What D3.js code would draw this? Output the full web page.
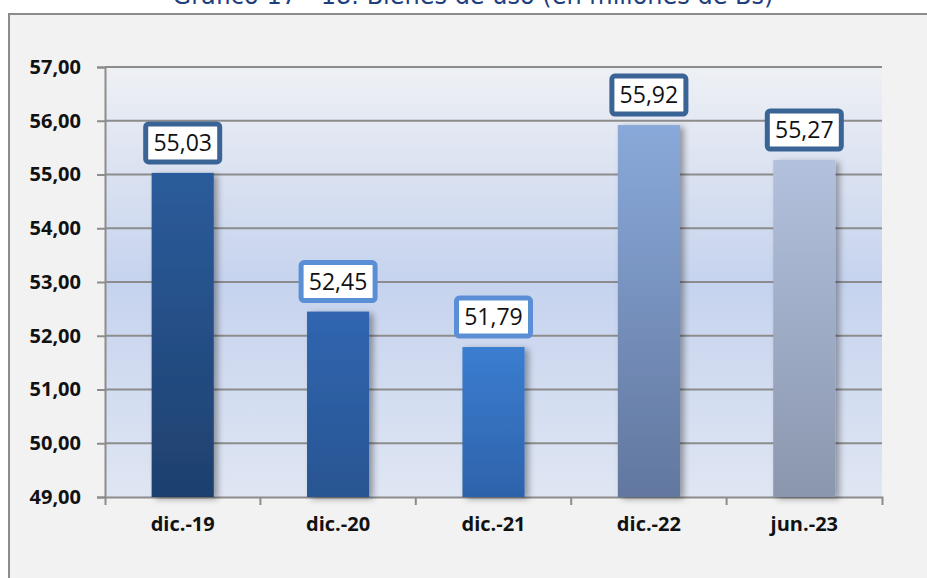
<!DOCTYPE html>
<html>
<head>
<meta charset="utf-8">
<script src="https://cdn.jsdelivr.net/npm/d3@7"></script>
<style>
  body { margin: 0; background: #ffffff; }
  svg { display: block; }
</style>
</head>
<body>
<div id="chart"></div>
<script>
var categories = ["dic.-19", "dic.-20", "dic.-21", "dic.-22", "jun.-23"];
var values = [55.03, 52.45, 51.79, 55.92, 55.27];
var labels = ["55,03", "52,45", "51,79", "55,92", "55,27"];
var yTicks = [49, 50, 51, 52, 53, 54, 55, 56, 57];
var title = "Gráfico 17 - 18. Bienes de uso (en millones de Bs)";

// colours per bar: [top, bottom, label border]
var barColors = [
  ["#2b5c9c", "#1e406e", "#3a6396"],
  ["#3066b0", "#285592", "#5a8fd5"],
  ["#3b7dd0", "#2e63ab", "#5a8fd5"],
  ["#89a9da", "#62779e", "#3a6396"],
  ["#b3c1de", "#8a96ad", "#3a6396"]
];

var W = 927, H = 578;
var svg = d3.select("#chart").append("svg").attr("width", W).attr("height", H);
var defs = svg.append("defs");

var bg = defs.append("linearGradient").attr("id", "plotbg")
  .attr("x1", 0).attr("y1", 0).attr("x2", 0).attr("y2", 1);
bg.append("stop").attr("offset", "0%").attr("stop-color", "#eef0f4");
bg.append("stop").attr("offset", "50%").attr("stop-color", "#c6d3ee");
bg.append("stop").attr("offset", "100%").attr("stop-color", "#dfe6f3");

barColors.forEach(function(c, i) {
  var g = defs.append("linearGradient").attr("id", "bar" + i)
    .attr("x1", 0).attr("y1", 0).attr("x2", 0).attr("y2", 1);
  g.append("stop").attr("offset", "0%").attr("stop-color", c[0]);
  g.append("stop").attr("offset", "100%").attr("stop-color", c[1]);
});

var f = defs.append("filter").attr("id", "shadow")
  .attr("x", "-20%").attr("y", "-10%").attr("width", "160%").attr("height", "130%");
f.append("feDropShadow").attr("dx", 4).attr("dy", 2).attr("stdDeviation", 3)
  .attr("flood-color", "#000").attr("flood-opacity", 0.35);

// outer frame
svg.append("rect").attr("x", 9).attr("y", 14).attr("width", W).attr("height", H)
  .attr("fill", "#f2f2f2").attr("stroke", "#8c8c8c").attr("stroke-width", 2);

// title (cut at the top, as in the source)
svg.append("text").attr("x", 473).attr("y", 4)
  .attr("text-anchor", "middle")
  .style("font-family", "DejaVu Sans, Verdana, sans-serif")
  .style("font-size", "24px")
  .attr("fill", "#1f3f7f")
  .text(title);

var m = {left: 105, right: 882, top: 67, bottom: 497};

var x = d3.scaleBand().domain(categories).range([m.left, m.right]).paddingInner(0.6).paddingOuter(0.3);
var xb = d3.scaleBand().domain(categories).range([m.left, m.right]);
var y = d3.scaleLinear().domain([49, 57]).range([m.bottom, m.top]);

svg.append("rect").attr("x", m.left).attr("y", m.top)
  .attr("width", m.right - m.left).attr("height", m.bottom - m.top)
  .attr("fill", "url(#plotbg)");

// gridlines + y axis
var yAxis = d3.axisLeft(y).tickValues(yTicks).tickSize(8)
  .tickFormat(function(d) { return d3.format(".2f")(d).replace(".", ","); });
var gy = svg.append("g").attr("transform", "translate(" + m.left + ",0)").call(yAxis);
gy.select(".domain").attr("stroke", "#8c8c8c").attr("stroke-width", 2);
gy.selectAll(".tick line").attr("stroke", "#8c8c8c").attr("stroke-width", 2);
gy.selectAll(".tick text")
  .attr("x", -24).attr("fill", "#111")
  .style("font-family", "Open Sans, sans-serif")
  .style("font-weight", "bold").style("font-size", "20px");

svg.append("g").selectAll("line").data(yTicks.slice(1)).enter().append("line")
  .attr("x1", m.left).attr("x2", m.right)
  .attr("y1", function(d) { return y(d); }).attr("y2", function(d) { return y(d); })
  .attr("stroke", "#8c8c8c").attr("stroke-width", 2);

// x axis with ticks on band edges
var gx = svg.append("g").attr("transform", "translate(0," + m.bottom + ")")
  .call(d3.axisBottom(xb).tickSize(0).tickSizeOuter(8));
gx.select(".domain").attr("stroke", "#8c8c8c").attr("stroke-width", 2);
gx.selectAll(".tick text").attr("dy", "1.55em").attr("fill", "#111")
  .style("font-family", "Open Sans, sans-serif")
  .style("font-weight", "bold").style("font-size", "20px");
gx.selectAll(".edge").data(categories.slice(1)).enter().append("line")
  .attr("x1", function(d) { return xb(d); }).attr("x2", function(d) { return xb(d); })
  .attr("y1", 0).attr("y2", 8)
  .attr("stroke", "#8c8c8c").attr("stroke-width", 2);

// bars
svg.append("g").selectAll("rect").data(values).enter().append("rect")
  .attr("x", function(d, i) { return x(categories[i]); })
  .attr("y", function(d) { return y(d); })
  .attr("width", x.bandwidth())
  .attr("height", function(d) { return y(49) - y(d); })
  .attr("fill", function(d, i) { return "url(#bar" + i + ")"; })
  .attr("filter", "url(#shadow)");

// value labels
var lab = svg.append("g").selectAll("g").data(values).enter().append("g")
  .attr("transform", function(d, i) {
    return "translate(" + (x(categories[i]) + x.bandwidth() / 2) + "," + (y(d) - 30) + ")";
  });
lab.append("rect").attr("x", -37).attr("y", -19).attr("width", 74).attr("height", 38)
  .attr("rx", 3).attr("fill", "#fff")
  .attr("stroke", function(d, i) { return barColors[i][2]; }).attr("stroke-width", 5);
lab.append("text").attr("text-anchor", "middle").attr("dy", "0.36em")
  .style("font-family", "Open Sans, sans-serif").style("font-size", "23px")
  .attr("fill", "#111")
  .text(function(d, i) { return labels[i]; });
</script>
</body>
</html>
